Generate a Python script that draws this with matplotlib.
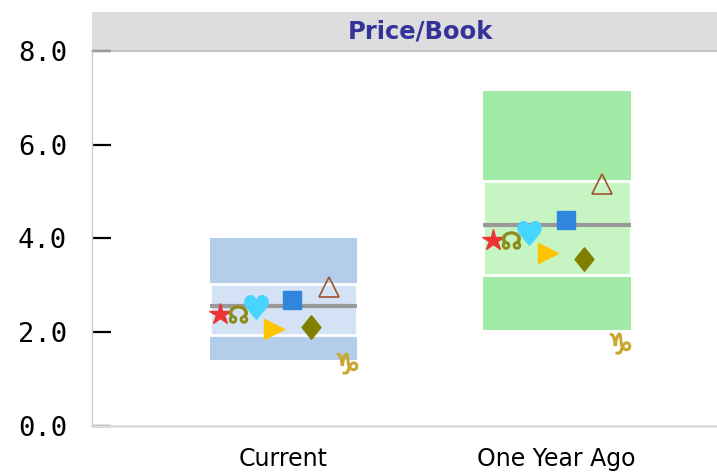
import matplotlib
matplotlib.use("Agg")
import matplotlib.pyplot as plt
from matplotlib.patches import Rectangle

categories = ["Current", "One Year Ago"]
box_low = [1.41, 2.05]
box_high = [4.01, 7.14]
band_low = [1.95, 3.22]
band_high = [3.03, 5.23]
median = [2.57, 4.29]
outer_colors = ["#b3ceeb", "#a2eba6"]
inner_colors = ["#d3e2f4", "#c6f4c3"]

# one value per category for every series
star_vals = [2.39, 3.97]
node_vals = [2.39, 3.97]
heart_vals = [2.54, 4.12]
rtri_vals = [2.06, 3.68]
square_vals = [2.68, 4.39]
diamond_vals = [2.12, 3.56]
utri_vals = [2.97, 5.17]
capri_vals = [1.34, 1.76]

yticks = [0, 2, 4, 6, 8]
ytick_labels = ["0.0", "2.0", "4.0", "6.0", "8.0"]

fig = plt.figure(figsize=(7.17, 4.74), dpi=100)
ax = fig.add_axes([0.1283, 0.1013, 0.915, 0.7911])

x = list(range(len(categories)))
width = 0.54
ax.bar(x, [h - l for l, h in zip(box_low, box_high)], bottom=box_low,
       width=width, color=outer_colors, zorder=1)
ax.bar(x, [h - l for l, h in zip(band_low, band_high)], bottom=band_low,
       width=width, color=inner_colors, edgecolor="white", linewidth=2, zorder=2)
for xi, m in zip(x, median):
    ax.plot([xi - width / 2, xi + width / 2], [m, m], color="#999999", lw=3,
            solid_capstyle="butt", zorder=3)

step = 1 / 15.0
diamond = [(0, 1), (0.8, 0), (0, -1), (-0.8, 0), (0, 1)]
series = [
    (star_vals, dict(marker="*", ms=16, color="#ee3333", mec="#ee3333")),
    (node_vals, dict(marker="$\u260A$", ms=13, color="#8c8c1a")),
    (heart_vals, dict(marker="$\u2665$", ms=17, color="#45d5ff")),
    (rtri_vals, dict(marker=">", ms=14, color="#ffc400", mec="#ffc400")),
    (square_vals, dict(marker="s", ms=13, color="#2f86dc", mec="#2f86dc")),
    (diamond_vals, dict(marker=diamond, ms=17, color="#808000", mec="#808000")),
    (utri_vals, dict(marker="^", ms=14, mfc="none", mec="#a0522d", mew=1.2)),
    (capri_vals, dict(marker="$\u2651$", ms=15, color="#c9a830")),
]
for i, (vals, style) in enumerate(series):
    off = (i - 3.5) * step
    ax.plot([xi + off for xi in x], vals, linestyle="none", zorder=4, **style)

ax.set_xlim(-0.7, 1.7)
ax.set_ylim(0, 8)
ax.set_yticks(yticks)
ax.set_yticklabels(ytick_labels, family="DejaVu Sans Mono", fontsize=19.5)
ax.set_xticks(x)
ax.set_xticklabels(categories, fontsize=17)
ax.tick_params(axis="y", direction="in", length=13.5, width=1.6, pad=18)
ax.tick_params(axis="x", length=0, pad=15)
ytl = ax.yaxis.get_major_ticks()
ytl[0].tick1line.set_color("#777777")
ytl[-1].tick1line.set_color("#777777")

for s in ["top", "right"]:
    ax.spines[s].set_visible(False)
ax.spines["left"].set_color("#cccccc")
ax.spines["left"].set_linewidth(1)
ax.spines["bottom"].set_color("#dddddd")
ax.spines["bottom"].set_linewidth(2)

hdr_h = 39 / 375.0
ax.add_patch(Rectangle((0, 1), 1, hdr_h, transform=ax.transAxes,
                       facecolor="#dddddd", edgecolor="none", clip_on=False))
ax.plot([0, 1], [1, 1], transform=ax.transAxes, color="#bbbbbb", lw=1.2,
        clip_on=False)
ax.text(0.5, 1 + hdr_h / 2, "Price/Book", transform=ax.transAxes,
        ha="center", va="center", fontsize=17.5, fontweight="bold", color="#333399")

fig.savefig("out.png", dpi=100)
